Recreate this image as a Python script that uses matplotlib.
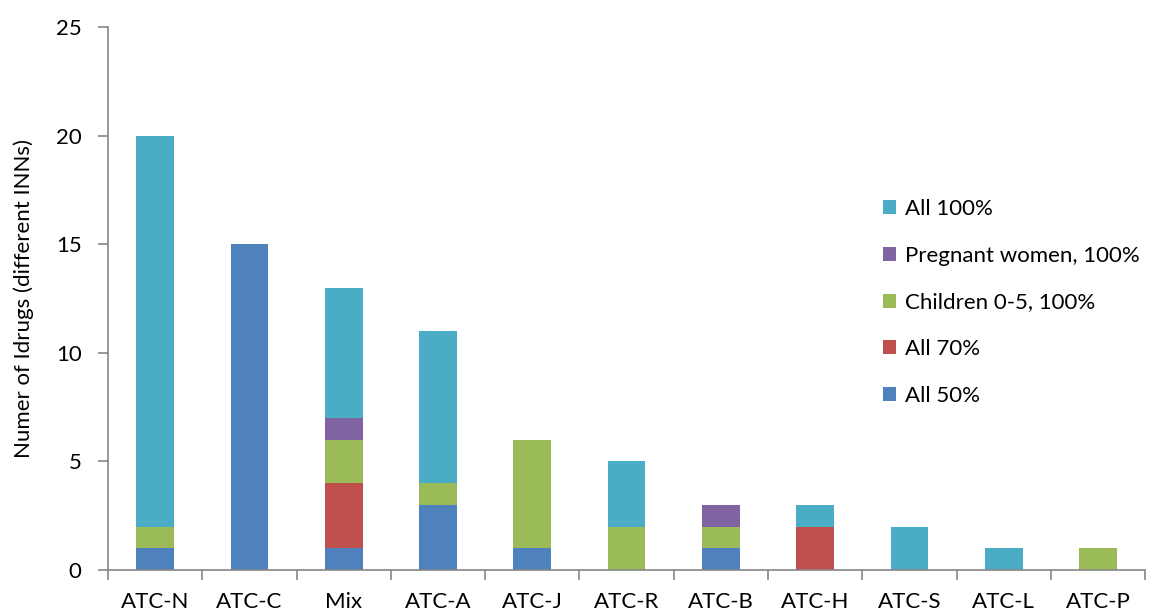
import matplotlib
matplotlib.use("Agg")
import matplotlib.pyplot as plt
import numpy as np

plt.rcParams['font.family'] = ['Lato', 'DejaVu Sans']

categories = ["ATC-N", "ATC-C", "Mix", "ATC-A", "ATC-J", "ATC-R", "ATC-B", "ATC-H", "ATC-S", "ATC-L", "ATC-P"]
all50 =     [1, 15, 1, 3, 1, 0, 1, 0, 0, 0, 0]
all70 =     [0, 0, 3, 0, 0, 0, 0, 2, 0, 0, 0]
children =  [1, 0, 2, 1, 5, 2, 1, 0, 0, 0, 1]
pregnant =  [0, 0, 1, 0, 0, 0, 1, 0, 0, 0, 0]
all100 =    [18, 0, 6, 7, 0, 3, 0, 1, 2, 1, 0]

series = [
    ("All 50%", all50, "#4F81BD"),
    ("All 70%", all70, "#C0504D"),
    ("Children 0-5, 100%", children, "#9BBB59"),
    ("Pregnant women, 100%", pregnant, "#8064A2"),
    ("All 100%", all100, "#4BACC6"),
]

fig = plt.figure(figsize=(11.55, 6.12), dpi=100)
ax = fig.add_axes([0.0935, 0.0686, 0.898, 0.887])
x = np.arange(len(categories))
bottom = np.zeros(len(categories))
handles = []
for name, vals, col in series:
    h = ax.bar(x, vals, 0.4, bottom=bottom, color=col, label=name)
    handles.append(h)
    bottom += np.array(vals)

ax.set_xlim(-0.5, len(categories) - 0.5)
ax.set_ylim(0, 25)
ax.set_yticks([0, 5, 10, 15, 20, 25])
ax.set_xticks(x)
ax.set_xticklabels(categories)
ax.set_xticks(np.arange(-0.5, len(categories), 1.0), minor=True)
ax.tick_params(axis='x', which='major', length=0, labelsize=16, pad=16, colors='black')
ax.tick_params(axis='x', which='minor', length=7, color='#868686', width=1.2)
ax.tick_params(axis='y', length=7, color='#868686', width=1.2, labelsize=16, pad=12)
for s in ['top', 'right']:
    ax.spines[s].set_visible(False)
for s in ['left', 'bottom']:
    ax.spines[s].set_color('#868686')
    ax.spines[s].set_linewidth(1.2)
ax.set_ylabel("Numer of Idrugs (different INNs)", fontsize=16, labelpad=16)

leg = ax.legend(handles[::-1], [s[0] for s in series][::-1], loc='upper left',
                bbox_to_anchor=(0.728, 0.72), frameon=False, fontsize=16,
                handlelength=0.6, handleheight=0.6, handletextpad=0.4, labelspacing=1.2)

fig.savefig("out.png", dpi=100)
